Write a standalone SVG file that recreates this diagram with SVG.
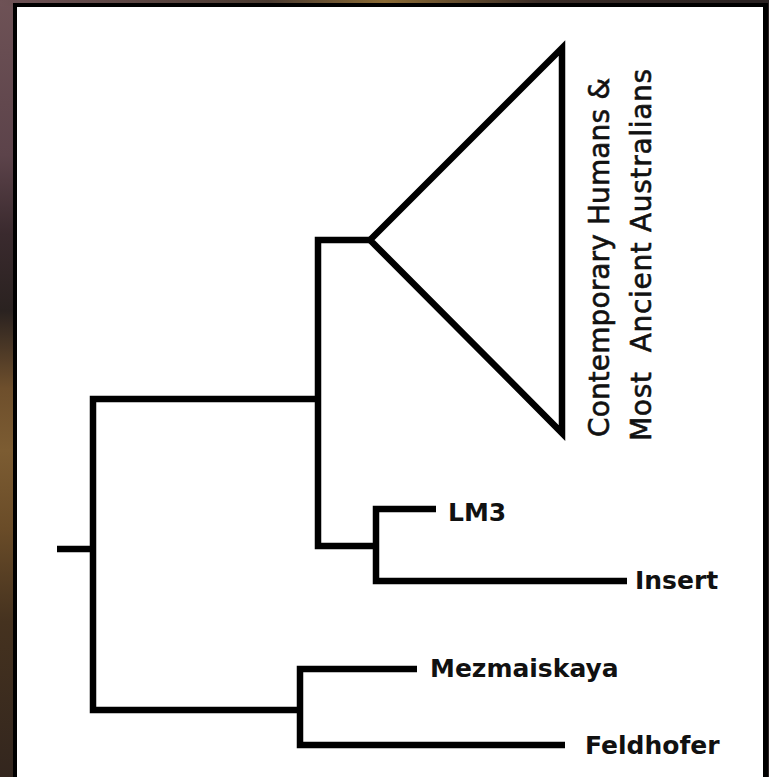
<svg xmlns="http://www.w3.org/2000/svg" width="769" height="777" viewBox="0 0 769 777">
  <defs>
    <linearGradient id="bgLeft" x1="0" y1="0" x2="0" y2="1">
      <stop offset="0" stop-color="#6e5256"/>
      <stop offset="0.2" stop-color="#5c434a"/>
      <stop offset="0.3" stop-color="#3a2a2e"/>
      <stop offset="0.4" stop-color="#2a2220"/>
      <stop offset="0.5" stop-color="#6e4f2c"/>
      <stop offset="0.58" stop-color="#7c5c32"/>
      <stop offset="0.68" stop-color="#6a4c28"/>
      <stop offset="0.8" stop-color="#45321f"/>
      <stop offset="1" stop-color="#33261e"/>
    </linearGradient>
    <linearGradient id="bgTop" x1="0" y1="0" x2="1" y2="0">
      <stop offset="0" stop-color="#6e5256"/>
      <stop offset="0.35" stop-color="#4a3a30"/>
      <stop offset="0.5" stop-color="#8a6a34"/>
      <stop offset="0.7" stop-color="#3a2c26"/>
      <stop offset="1" stop-color="#2a2222"/>
    </linearGradient>
  </defs>
  <style>
    .branch { fill: none; stroke: #000; stroke-width: 6.5; stroke-linejoin: miter; stroke-linecap: butt; }
    .label { font-family: "DejaVu Sans", "Verdana", sans-serif; font-weight: bold; font-size: 25px; fill: #111; }
    .vlabel { font-family: "DejaVu Sans", "Verdana", sans-serif; font-size: 28px; fill: #111; stroke: #111; stroke-width: 0.6; }
  </style>
  <rect x="0" y="0" width="769" height="777" fill="url(#bgLeft)"/>
  <rect x="0" y="0" width="769" height="6" fill="url(#bgTop)"/>
  <rect x="740" y="0" width="29" height="777" fill="#2a2222"/>
  <rect x="13" y="3" width="755" height="780" fill="#000"/>
  <rect x="17" y="7" width="746" height="775" fill="#fff"/>

  <g id="connectors">
    <path class="branch" d="M57,549 H93"/>
    <path class="branch" d="M318,399 H93 V710 H300"/>
    <path class="branch" d="M370,240 H318 V546 H376"/>
    <path class="branch" d="M436,509 H376 V581 H627"/>
    <path class="branch" d="M417,669 H300 V745 H565"/>
  </g>

  <g id="node-contemporary">
    <polygon class="branch" points="370,240 562,48 562,433"/>
    <text class="vlabel" transform="translate(609,437) rotate(-90)" textLength="359" lengthAdjust="spacing">Contemporary Humans &amp;</text>
    <text class="vlabel" transform="translate(651,441) rotate(-90)" textLength="372" lengthAdjust="spacing" xml:space="preserve">Most  Ancient Australians</text>
  </g>
  <g id="node-lm3">
    <text class="label" x="448" y="521">LM3</text>
  </g>
  <g id="node-insert">
    <text class="label" x="635" y="589">Insert</text>
  </g>
  <g id="node-mezmaiskaya">
    <text class="label" x="430" y="677">Mezmaiskaya</text>
  </g>
  <g id="node-feldhofer">
    <text class="label" x="585" y="754">Feldhofer</text>
  </g>
</svg>
